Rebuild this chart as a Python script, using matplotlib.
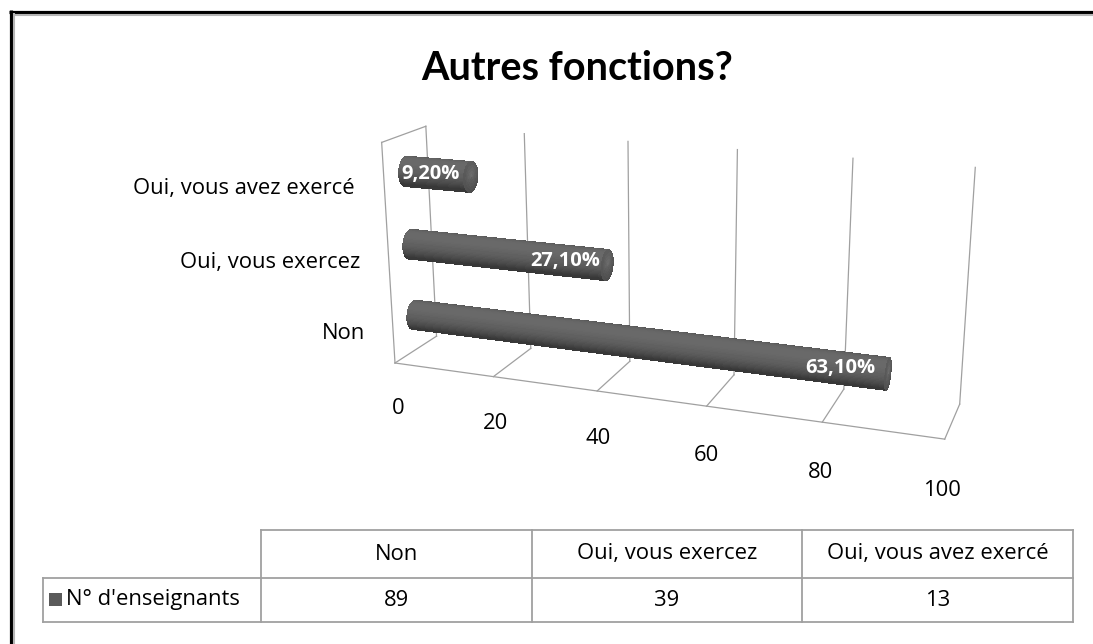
import numpy as np
import matplotlib
matplotlib.use("Agg")
import matplotlib.pyplot as plt
from matplotlib.text import Text
from mpl_toolkits.mplot3d import proj3d

# ---------------- data ----------------
title = "Autres fonctions?"
categories = ["Non", "Oui, vous exercez", "Oui, vous avez exercé"]
counts = [89, 39, 13]
pct_labels = ["63,10%", "27,10%", "9,20%"]
series_name = "N° d'enseignants"
ticks = [0, 20, 40, 60, 80, 100]

W, H = 1093, 644
fig = plt.figure(figsize=(W / 100, H / 100), dpi=100)
fig.patch.set_facecolor("white")

FONT = ["Open Sans", "DejaVu Sans"]
TFONT = ["Lato", "DejaVu Sans"]
FS = 15.8

# ---------------- overlay (frame + table) ----------------
ov = fig.add_axes([0, 0, 1, 1], zorder=0)
ov.set_xlim(0, W)
ov.set_ylim(H, 0)
ov.set_axis_off()
ov.patch.set_alpha(0)

# chart frame (cut at right and bottom)
ov.plot([10.5, 10.5], [10, H + 2], color="black", lw=2.3, solid_capstyle="butt")
ov.plot([9, W + 2], [11.5, 11.5], color="black", lw=2.3, solid_capstyle="butt")
ov.plot([14, 14], [13, H + 2], color="#b5b5b5", lw=1.5, solid_capstyle="butt")
ov.plot([13, W + 2], [14.8, 14.8], color="#b5b5b5", lw=1.5, solid_capstyle="butt")

ov.text(577, 68, title, ha="center", va="center", fontsize=28.5,
        fontweight="bold", family=TFONT, color="black")

# data table
tcol = "#a0a0a0"
tlw = 1.3
col_x = [261, 532, 802, 1073]
y_top, y_mid, y_bot = 530, 578, 622
lab_x0 = 43
ov.plot([col_x[0], col_x[-1]], [y_top, y_top], color=tcol, lw=tlw)
ov.plot([lab_x0, col_x[-1]], [y_mid, y_mid], color=tcol, lw=tlw)
ov.plot([lab_x0, col_x[-1]], [y_bot, y_bot], color=tcol, lw=tlw)
ov.plot([lab_x0, lab_x0], [y_mid, y_bot], color=tcol, lw=tlw)
for cx in col_x:
    ov.plot([cx, cx], [y_top, y_bot], color=tcol, lw=tlw)
for i, cat in enumerate(categories):
    xc = (col_x[i] + col_x[i + 1]) / 2
    ov.text(xc, (y_top + y_mid) / 2, cat, ha="center", va="center",
            fontsize=FS, family=FONT, color="black")
    ov.text(xc, (y_mid + y_bot) / 2 + 1, str(counts[i]), ha="center", va="center",
            fontsize=FS, family=FONT, color="black")
ov.add_patch(plt.Rectangle((49, 593), 13, 13, color="#5a5a5a", lw=0))
ov.text(66, (y_mid + y_bot) / 2, series_name, ha="left", va="center",
        fontsize=FS, family=FONT, color="black")

# ---------------- 3D chart ----------------
ax = fig.add_axes([0.3, 0.3, 0.6, 0.6], projection="3d", computed_zorder=False, zorder=2)
ax.set_proj_type("persp", focal_length=0.42)
ax.view_init(elev=17, azim=-70)
ASP = (1.0, 0.155, 0.41)
ax.set_box_aspect(ASP)
ncat = len(categories)
ax.set_xlim(0, 100)
ax.set_ylim(0, 1)
ax.set_zlim(0, ncat)
ax.set_xticks([])
ax.set_yticks([])
ax.set_zticks([])
ax.set_axis_off()
ax.patch.set_alpha(0)

gc = "#a0a0a0"
glw = 0.9
D = 1.0
lines = []
for t in ticks:
    lines += ax.plot([t, t], [D, D], [0, ncat], color=gc, lw=glw, zorder=1)
    lines += ax.plot([t, t], [0, D], [0, 0], color=gc, lw=glw, zorder=1)
lines += ax.plot([0, 100], [0, 0], [0, 0], color=gc, lw=glw, zorder=1)
lines += ax.plot([0, 0], [0, 0], [0, ncat], color=gc, lw=glw, zorder=1)
lines += ax.plot([0, 0], [0, D], [ncat, ncat], color=gc, lw=glw, zorder=1)
for ln in lines:
    ln.set_clip_on(False)

# cylinder geometry (equal physical radius in y and z)
rz = 0.2
phys_z = ASP[2] / ncat
phys_y = ASP[1] / 1.0
ry = rz * phys_z / phys_y
yc = 0.5

Lvec = np.array([0.25, -0.55, 0.8])
Lvec = Lvec / np.linalg.norm(Lvec)
theta = np.linspace(0, 2 * np.pi, 73)


def surf(X, Y, Z, fc, zo, aa):
    s = ax.plot_surface(X, Y, Z, facecolors=fc, shade=False, linewidth=0,
                        antialiased=aa, rstride=1, cstride=1, zorder=zo)
    s.set_clip_on(False)
    return s


for i, v in enumerate(counts):
    zc = i + 0.5
    xs = np.array([0.0, v])
    X, T = np.meshgrid(xs, theta)
    Y = yc + ry * np.cos(T)
    Z = zc + rz * np.sin(T)
    nd = np.clip(Lvec[1] * np.cos(T) + Lvec[2] * np.sin(T), 0, 1)
    g = 0.22 + 0.20 * nd
    fc = np.stack([g, g, g, np.ones_like(g)], axis=-1)
    surf(X, Y, Z, fc, 2, False)
    # end cap
    R = np.linspace(0, 1, 6)
    RR, TT = np.meshgrid(R, theta)
    Xc = np.full_like(RR, v)
    Yc = yc + ry * RR * np.cos(TT)
    Zc = zc + rz * RR * np.sin(TT)
    gcap = 0.40 - 0.08 * RR + 0.03 * np.sin(TT)
    fcc = np.stack([gcap, gcap, gcap, np.ones_like(gcap)], axis=-1)
    surf(Xc, Yc, Zc, fcc, 3, False)

# ---------------- fit the projected box onto the page ----------------
anchors = [((0, 0, 0), (395, 363)), ((100, 0, 0), (945, 437))]


def to_px(pt):
    xs_, ys_, _ = proj3d.proj_transform(np.array([pt[0]]), np.array([pt[1]]),
                                        np.array([pt[2]]), ax.M)
    return ax.transData.transform((xs_[0], ys_[0]))


for _ in range(3):
    fig.canvas.draw()
    p0 = to_px(anchors[0][0])
    p1 = to_px(anchors[1][0])
    t0 = np.array([anchors[0][1][0], H - anchors[0][1][1]], float)
    t1 = np.array([anchors[1][1][0], H - anchors[1][1][1]], float)
    s = np.linalg.norm(t1 - t0) / np.linalg.norm(p1 - p0)
    pos = ax.get_position(original=True)
    w, h = pos.width * W, pos.height * H
    c_old = np.array([pos.x0 * W + w / 2, pos.y0 * H + h / 2])
    c_new = t0 - s * (p0 - c_old)
    ax.set_position([(c_new[0] - s * w / 2) / W, (c_new[1] - s * h / 2) / H,
                     s * w / W, s * h / H])
fig.canvas.draw()

# ---------------- texts placed at projected 3D points (top overlay) ----------------
top = fig.add_axes([0, 0, 1, 1], zorder=5)
top.set_xlim(0, W)
top.set_ylim(0, H)
top.set_axis_off()
top.patch.set_alpha(0)


def label3d(pt, s, **kw):
    px, py = to_px(pt)
    top.text(px, py, s, **kw)


for i, v in enumerate(counts):
    label3d((v - 8.0, yc, i + 0.5), pct_labels[i], ha="center", va="center",
            color="white", fontsize=FS - 1.3, fontweight="bold", family=FONT)
for t in ticks:
    label3d((t, 0, -0.66), str(t), ha="center", va="center", fontsize=FS,
            family=FONT, color="black")
for i, cat in enumerate(categories):
    label3d((-6.0, 0, i + 0.36), cat, ha="right", va="center", fontsize=FS,
            family=FONT, color="black")

# hide empty helper texts (axis labels / titles) of the axes
for t in fig.findobj(Text):
    if t.get_text() == "":
        t.set_visible(False)

fig.savefig("out.png", dpi=100, facecolor="white")
